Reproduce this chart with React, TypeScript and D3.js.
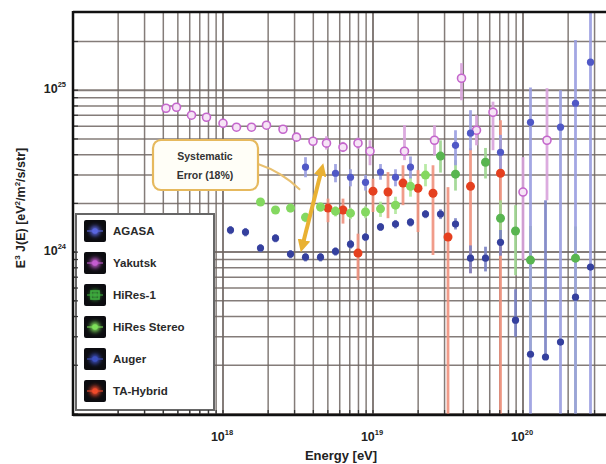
import React from "react";
import * as d3 from "d3";

const W = 606;
const H = 464;
const UNIT = 1e24; // flux values below are in units of 1e24 eV^2 m^-2 s^-1 sr^-1

// ---- AGASA ----
const agasaLgE = [18.55, 18.75, 18.85, 18.95, 19.05, 19.15, 19.25, 19.55, 19.65, 19.85, 20.05, 20.25, 20.35, 20.45];
const agasaFlux = [3.35, 3.07, 2.9, 2.7, 3.12, 2.9, 3.35, 4.57, 5.43, 4.14, 6.34, 5.91, 8.31, 14.9];
const agasaHi = [3.86, 3.5, 3.25, 3.0, 3.5, 3.25, 3.9, 5.66, 7.53, 5.3, 10.4, 10.0, 20.4, 30];
const agasaLo = [2.9, 2.7, 2.55, 2.4, 2.8, 2.55, 2.85, 3.44, 4.26, 3.2, 0, 0, 0, 0];

// ---- Yakutsk ----
const yakLgE = [17.62, 17.69, 17.79, 17.89, 18.0, 18.09, 18.19, 18.29, 18.4, 18.49, 18.6, 18.69, 18.8, 18.9, 18.98, 19.21, 19.41, 19.59, 19.69, 19.8, 20.0, 20.16];
const yakFlux = [7.74, 7.85, 7.01, 6.81, 6.25, 5.91, 5.91, 6.08, 5.74, 5.13, 4.84, 4.71, 4.45, 4.71, 4.2, 4.2, 4.91, 11.86, 5.66, 7.31, 2.35, 4.91];
const yakHi = [8.0, 8.1, 7.25, 7.05, 6.5, 6.15, 6.15, 6.35, 6.0, 5.4, 5.1, 5.2, 4.8, 5.1, 4.91, 6.1, 6.08, 14.7, 7.0, 8.5, 3.86, 10.3];
const yakLo = [7.5, 7.6, 6.8, 6.6, 6.0, 5.7, 5.7, 5.85, 5.5, 4.9, 4.6, 4.3, 4.15, 4.35, 3.44, 3.7, 3.97, 8.67, 4.57, 4.26, 0.893, 2.09];

// ---- HiRes-1 ----
const hr1LgE = [19.45, 19.55, 19.75, 19.85, 19.95, 20.05, 20.35];
const hr1Flux = [3.92, 3.03, 3.59, 1.62, 1.35, 0.893, 0.918];
const hr1Hi = [4.9, 3.7, 4.4, 2.09, 1.95, 1.45, 1.44];
const hr1Lo = [3.1, 2.4, 2.85, 1.1, 0.72, 0.235, 0];

// ---- HiRes Stereo ----
const hrsLgE = [18.25, 18.35, 18.45, 18.55, 18.65, 18.75, 18.85, 18.95, 19.05, 19.15, 19.25, 19.35];
const hrsFlux = [2.04, 1.82, 1.87, 1.64, 1.9, 1.79, 1.74, 1.77, 1.85, 1.95, 2.55, 2.99];
const hrsHi = [2.15, 1.92, 1.98, 1.75, 2.02, 1.92, 1.88, 1.92, 2.05, 2.2, 2.9, 3.5];
const hrsLo = [1.93, 1.72, 1.76, 1.53, 1.78, 1.66, 1.6, 1.62, 1.65, 1.72, 2.2, 2.55];

// ---- Auger ----
const augerLgE = [18.05, 18.15, 18.25, 18.35, 18.45, 18.55, 18.65, 18.75, 18.85, 18.95, 19.05, 19.15, 19.25, 19.35, 19.45, 19.55, 19.65, 19.75, 19.85, 19.95, 20.05, 20.15, 20.25, 20.35, 20.45];
const augerFlux = [1.37, 1.33, 1.06, 1.22, 0.972, 0.931, 0.931, 1.01, 1.12, 1.24, 1.43, 1.49, 1.53, 1.72, 1.72, 1.49, 0.918, 0.918, 1.15, 0.38, 0.234, 0.225, 0.278, 0.527, 0.808];
const augerHi = [1.45, 1.41, 1.12, 1.29, 1.03, 0.99, 0.99, 1.07, 1.19, 1.31, 1.51, 1.58, 1.62, 1.82, 1.84, 1.62, 1.1, 1.08, 1.37, 0.59, 0.234, 2.09, 0.278, 0.527, 0.808];
const augerLo = [1.29, 1.25, 1.0, 1.15, 0.915, 0.875, 0.875, 0.95, 1.05, 1.17, 1.35, 1.4, 1.44, 1.62, 1.6, 1.38, 0.74, 0.76, 0.95, 0.3, 0.234, 0.225, 0.278, 0.527, 0.808];

// ---- TA-Hybrid ----
const taLgE = [18.7, 18.8, 18.9, 19.0, 19.1, 19.2, 19.3, 19.4, 19.5, 19.65, 19.85];
const taFlux = [1.87, 1.82, 0.986, 2.38, 2.35, 2.67, 2.48, 2.31, 1.24, 2.55, 3.07];
const taHi = [2.14, 2.14, 1.3, 2.84, 3.12, 3.44, 3.21, 3.44, 2.52, 4.38, 6.53];
const taLo = [1.53, 1.5, 0.672, 1.77, 1.62, 1.95, 1.33, 0.96, 0, 0.741, 0];

// ---- systematic energy-scale arrow ----
const systLgE = [18.527, 18.66];
const systFlux = [1.07, 3.3];

// axis decades
const xDecades = [17, 18, 19, 20];
const yDecades = [23, 24, 25];
const xLabelDecades = [18, 19, 20];
const yLabelDecades = [24, 25];

type Series = {
  name: string;
  lgE: number[];
  flux: number[];
  hi: number[];
  lo: number[];
  color: string;
  bar: string;
  open?: boolean;
  r: number;
};

const series: Series[] = [
  { name: "Yakutsk", lgE: yakLgE, flux: yakFlux, hi: yakHi, lo: yakLo, color: "#c466cc", bar: "#d9a2dc", open: true, r: 4 },
  { name: "TA-Hybrid", lgE: taLgE, flux: taFlux, hi: taHi, lo: taLo, color: "#e5401f", bar: "#f0927e", r: 4.5 },
  { name: "HiRes Stereo", lgE: hrsLgE, flux: hrsFlux, hi: hrsHi, lo: hrsLo, color: "#84d860", bar: "#b2e89c", r: 4.5 },
  { name: "HiRes-1", lgE: hr1LgE, flux: hr1Flux, hi: hr1Hi, lo: hr1Lo, color: "#58b550", bar: "#9ed690", r: 4.5 },
  { name: "Auger", lgE: augerLgE, flux: augerFlux, hi: augerHi, lo: augerLo, color: "#35409e", bar: "#7a82c4", r: 3.6 },
  { name: "AGASA", lgE: agasaLgE, flux: agasaFlux, hi: agasaHi, lo: agasaLo, color: "#5058c6", bar: "#9a9ee0", r: 3.6 },
];

const legendEntries = [
  { name: "AGASA", color: "#5a66e0" },
  { name: "Yakutsk", color: "#c45cd0" },
  { name: "HiRes-1", color: "#3fae3f", square: true },
  { name: "HiRes Stereo", color: "#7ee05a" },
  { name: "Auger", color: "#3c50c0" },
  { name: "TA-Hybrid", color: "#f04a2a" },
];

const LEFT = 73;
const TOP = 12;
const BOTTOM = 415;

const x = d3.scaleLog().domain([1e17, Math.pow(10, 20.6)]).range([LEFT, LEFT + 3.6 * 150]);
const y = d3.scaleLog().domain([1e23, 3e25]).range([414, 13]);

const fy = (v: number) => (v <= 0 ? BOTTOM : y(v * UNIT));
const fx = (lg: number) => x(Math.pow(10, lg));

const xGrid: number[] = [];
xDecades.forEach((n) => {
  for (let k = 1; k <= 9; k++) {
    const v = k * Math.pow(10, n);
    if (v >= 1e17 && v <= Math.pow(10, 20.6)) xGrid.push(v);
  }
});
const yGrid: number[] = [];
yDecades.forEach((n) => {
  for (let k = 1; k <= 9; k++) {
    const v = k * Math.pow(10, n);
    if (v >= 1e23 && v <= 3e25) yGrid.push(v);
  }
});

const isDecade = (v: number) => Math.abs(Math.log10(v) - Math.round(Math.log10(v))) < 1e-9;

const FONT = "'Liberation Sans', Arial, sans-serif";

export default function App() {
  const ax1 = fx(systLgE[0]);
  const ay1 = fy(systFlux[0]);
  const ax2 = fx(systLgE[1]);
  const ay2 = fy(systFlux[1]);

  return (
    <svg
      width={W}
      height={H}
      viewBox={`0 0 ${W} ${H}`}
      style={{ position: "absolute", left: 0, top: 0, background: "#fff" }}
      fontFamily={FONT}
    >
      <defs>
        <clipPath id="plotClip">
          <rect x={LEFT} y={TOP} width={W - LEFT} height={BOTTOM - TOP} />
        </clipPath>
        <filter id="glow" x="-100%" y="-100%" width="300%" height="300%">
          <feGaussianBlur stdDeviation="2.2" />
        </filter>
        <marker id="arrowHead" viewBox="0 0 10 10" refX="6" refY="5" markerWidth="3.2" markerHeight="3.2" orient="auto-start-reverse">
          <path d="M0,0 L10,5 L0,10 z" fill="#e9b133" />
        </marker>
      </defs>

      {/* grid */}
      <g clipPath="url(#plotClip)">
        {xGrid.map((v, i) => (
          <line key={`gx${i}`} x1={x(v)} x2={x(v)} y1={TOP} y2={BOTTOM} stroke="#6f6662" strokeWidth={isDecade(v) ? 2 : 1.5} opacity={0.85} />
        ))}
        {yGrid.map((v, i) => (
          <line key={`gy${i}`} x1={LEFT} x2={W} y1={y(v)} y2={y(v)} stroke="#6f6662" strokeWidth={isDecade(v) ? 2 : 1.5} opacity={0.85} />
        ))}
      </g>

      {/* error bars */}
      <g clipPath="url(#plotClip)">
        {series.map((s) =>
          s.lgE.map((lg, i) => (
            <line
              key={`${s.name}-e${i}`}
              x1={fx(lg)}
              x2={fx(lg)}
              y1={fy(s.hi[i])}
              y2={fy(s.lo[i])}
              stroke={s.bar}
              strokeWidth={2.8}
              opacity={0.9}
            />
          ))
        )}
      </g>

      {/* points */}
      <g clipPath="url(#plotClip)">
        {series.map((s) =>
          s.lgE.map((lg, i) =>
            s.open ? (
              <circle key={`${s.name}-p${i}`} cx={fx(lg)} cy={fy(s.flux[i])} r={s.r} fill="#f6e4f6" stroke={s.color} strokeWidth={1.6} />
            ) : (
              <circle key={`${s.name}-p${i}`} cx={fx(lg)} cy={fy(s.flux[i])} r={s.r} fill={s.color} />
            )
          )
        )}
      </g>

      {/* systematic error annotation */}
      <path
        d={`M258,164 Q282,172 ${ax1 - 2},${(ay1 + ay2) / 2 - 18}`}
        fill="none"
        stroke="#e8c070"
        strokeWidth={2}
      />
      <line x1={ax1} y1={ay1} x2={ax2} y2={ay2} stroke="#e9b133" strokeWidth={4} markerStart="url(#arrowHead)" markerEnd="url(#arrowHead)" />
      <rect x={153} y={140} width={105} height={50} rx={8} fill="#fffef7" stroke="#e6b95e" strokeWidth={2.2} />
      <text x={205} y={160} textAnchor="middle" fontSize={10.5} fontWeight="bold" fill="#333">
        Systematic
      </text>
      <text x={205} y={179} textAnchor="middle" fontSize={10.5} fontWeight="bold" fill="#333">
        Error (18%)
      </text>

      {/* legend */}
      <rect x={76} y={214} width={138} height={196} fill="#fff" stroke="#666" strokeWidth={2} />
      {legendEntries.map((e, i) => {
        const cy = 231 + i * 32;
        return (
          <g key={e.name}>
            <rect x={84} y={cy - 11} width={22} height={22} rx={2} fill="#0c0c10" />
            <line x1={87} x2={103} y1={cy} y2={cy} stroke={e.color} strokeWidth={1.5} opacity={0.7} />
            <circle cx={95} cy={cy} r={5} fill={e.color} filter="url(#glow)" />
            {e.square ? (
              <rect x={91} y={cy - 4} width={8} height={8} fill="none" stroke={e.color} strokeWidth={1.6} />
            ) : (
              <circle cx={95} cy={cy} r={2.8} fill={e.color} />
            )}
            <text x={113} y={cy + 4} fontSize={11.5} fontWeight="bold" fill="#2a2a2a">
              {e.name}
            </text>
          </g>
        );
      })}

      {/* axis ticks */}
      {xGrid.map((v, i) => (
        <line key={`tx${i}`} x1={x(v)} x2={x(v)} y1={BOTTOM} y2={BOTTOM - 5} stroke="#333" strokeWidth={1.2} />
      ))}
      {yGrid.map((v, i) => (
        <line key={`ty${i}`} x1={LEFT} x2={LEFT + 5} y1={y(v)} y2={y(v)} stroke="#333" strokeWidth={1.2} />
      ))}

      {/* frame */}
      <line x1={LEFT} x2={W} y1={TOP} y2={TOP} stroke="#111" strokeWidth={2.5} />
      <line x1={LEFT} x2={LEFT} y1={TOP - 1} y2={BOTTOM + 1} stroke="#111" strokeWidth={2.5} />
      <line x1={LEFT} x2={W} y1={BOTTOM} y2={BOTTOM} stroke="#111" strokeWidth={2.5} />

      {/* tick labels */}
      {xLabelDecades.map((n) => (
        <text key={`xl${n}`} x={x(Math.pow(10, n)) - 1} y={441} textAnchor="middle" fontSize={12.5} fontWeight="bold" fill="#222">
          <tspan>10</tspan>
          <tspan dy={-6} fontSize={7.5}>{n}</tspan>
        </text>
      ))}
      {yLabelDecades.map((n) => (
        <text key={`yl${n}`} x={66} y={y(Math.pow(10, n)) + 3} textAnchor="end" fontSize={12.5} fontWeight="bold" fill="#222">
          <tspan>10</tspan>
          <tspan dy={-6} fontSize={7.5}>{n}</tspan>
        </text>
      ))}

      {/* axis titles */}
      <text x={341} y={460} textAnchor="middle" fontSize={13} fontWeight="bold" fill="#222">
        Energy [eV]
      </text>
      <text transform="translate(25,208) rotate(-90)" textAnchor="middle" fontSize={12.5} fontWeight="bold" fill="#222">
        <tspan>E</tspan>
        <tspan dy={-5} fontSize={8}>3</tspan>
        <tspan dy={5}> J(E) [eV</tspan>
        <tspan dy={-5} fontSize={8}>2</tspan>
        <tspan dy={5}>/m</tspan>
        <tspan dy={-5} fontSize={8}>2</tspan>
        <tspan dy={5}>/s/str]</tspan>
      </text>
    </svg>
  );
}
